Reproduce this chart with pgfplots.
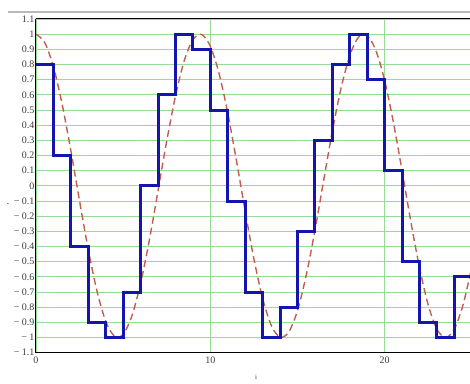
\documentclass[border=0pt]{standalone}
\usepackage{pgfplots}
\pgfplotsset{compat=1.18}
\usepackage{fontspec}
\setmainfont{Liberation Serif}
\definecolor{gridgreen}{RGB}{150,220,150}
\definecolor{stepblue}{RGB}{20,20,175}
\definecolor{cosred}{RGB}{190,95,80}
\definecolor{ticktext}{RGB}{60,60,60}
\begin{document}
\begin{tikzpicture}[x=1pt,y=1pt]
\useasboundingbox (0,0) rectangle (470,383);
\draw[gray!55, line width=1.5pt] (8,371) -- (470,371);
\begin{axis}[
  at={(36pt,30.3pt)}, anchor=south west,
  scale only axis, width=434pt, height=333.7pt,
  xmin=0, xmax=24.9, ymin=-1.1, ymax=1.1,
  axis x line=box, axis y line=left,
  axis line style={black, line width=1pt, -},
  xtick={0,10,20}, xticklabels={0,10,20},
  ytick={-1.1,-1,-0.9,-0.8,-0.7,-0.6,-0.5,-0.4,-0.3,-0.2,-0.1,0,0.1,0.2,0.3,0.4,0.5,0.6,0.7,0.8,0.9,1,1.1},
  yticklabels={− 1.1,− 1,− 0.9,− 0.8,− 0.7,− 0.6,− 0.5,− 0.4,− 0.3,− 0.2,− 0.1,0,0.1,0.2,0.3,0.4,0.5,0.6,0.7,0.8,0.9,1,1.1},
  major tick length=0pt,
  tick label style={font=\fontsize{10}{10}\selectfont, text=ticktext},
  yticklabel style={xshift=2pt},
  xticklabel style={yshift=-1pt},
  grid=major,
  major grid style={gridgreen, line width=0.9pt},
  clip=true,
]
\addplot[cosred, line width=1.4pt, dash pattern=on 7pt off 4pt, smooth] coordinates {
(0,1) (0.5,0.9447) (1,0.7848) (1.5,0.5378) (2,0.2318) (2.5,-0.1001) (3,-0.4208) (3.5,-0.6946)
(4,-0.8925) (4.5,-0.9912) (5,-0.9790) (5.5,-0.8578) (6,-0.6432) (6.5,-0.3597) (7,-0.0334)
(7.5,0.2955) (8,0.5909) (8.5,0.8230) (9,0.9641) (9.5,0.9978) (10,0.9207) (10.5,0.7417)
(11,0.4808) (11.5,0.1666) (12,-0.1661) (12.5,-0.4804) (13,-0.7414) (13.5,-0.9206)
(14,-0.9978) (14.5,-0.9641) (15,-0.8231) (15.5,-0.5911) (16,-0.2958) (16.5,0.0335)
(17,0.3595) (17.5,0.6433) (18,0.8578) (18.5,0.9799) (19,0.9911) (19.5,0.8926) (20,0.6953)
(20.5,0.4211) (21,0.1001) (21.5,-0.2318) (22,-0.5375) (22.5,-0.7844) (23,-0.9448)
(23.5,-1.0) (24,-0.9448) (24.5,-0.7848) (25,-0.5378)
};
\addplot[stepblue, line width=3pt, const plot, line join=miter] coordinates {
(0,0.8) (1,0.2) (2,-0.4) (3,-0.9) (4,-1) (5,-0.7) (6,0) (7,0.6) (8,1) (9,0.9)
(10,0.5) (11,-0.1) (12,-0.7) (13,-1) (14,-0.8) (15,-0.3) (16,0.3) (17,0.8) (18,1)
(19,0.7) (20,0.1) (21,-0.5) (22,-0.9) (23,-1) (24,-0.6) (25,-0.6)
};
\end{axis}
\node[stepblue, font=\fontsize{7}{7}\selectfont, inner sep=0pt] at (8,178) {-};
\node[ticktext, font=\fontsize{7}{7}\selectfont, inner sep=0pt] at (256,6) {i};
\end{tikzpicture}
\end{document}
